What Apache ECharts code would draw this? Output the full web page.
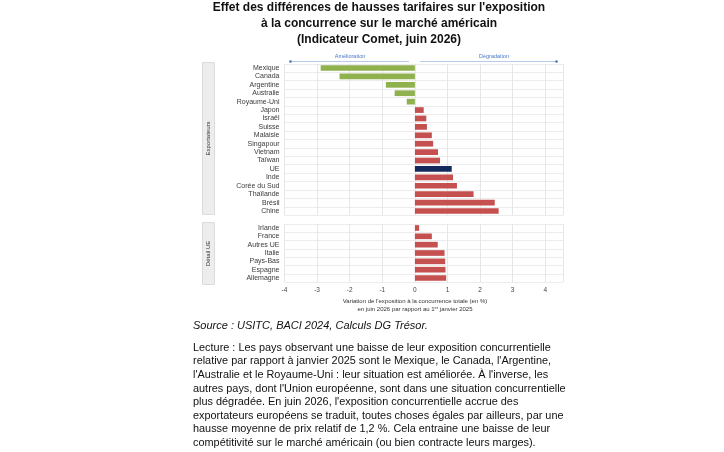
<!DOCTYPE html>
<html><head><meta charset="utf-8">
<script src="https://cdn.jsdelivr.net/npm/echarts@6/dist/echarts.min.js"></script>
<style>html,body{margin:0;padding:0;background:#fff}#c{width:724px;height:452px}</style>
</head><body><div id="c"></div>
<script>
const exportCats = ['Mexique','Canada','Argentine','Australie','Royaume-Uni','Japon','Israël','Suisse','Malaisie','Singapour','Vietnam','Taïwan','UE','Inde','Corée du Sud','Thaïlande','Brésil','Chine'];
const exportVals = [-2.89,-2.31,-0.89,-0.62,-0.25,0.27,0.35,0.37,0.52,0.56,0.71,0.77,1.13,1.17,1.29,1.80,2.45,2.57];
const ueCats = ['Irlande','France','Autres UE','Italie','Pays-Bas','Espagne','Allemagne'];
const ueVals = [0.13,0.52,0.70,0.91,0.93,0.94,0.96];
const xTicks = [-4,-3,-2,-1,0,1,2,3,4];

const FONT = "'Liberation Sans', Arial, sans-serif";
const GREEN = '#8fb14e', RED = '#c4504f', NAVY = '#14295e';
function colorFor(cat, v){ if (v < 0) return GREEN; if (cat === 'UE') return NAVY; return RED; }

const chart = echarts.init(document.getElementById('c'), null, {renderer:'canvas'});
const X0 = 284.5, XR = 563.2;
function xAxisCfg(gi, showLabels){
  return {
    gridIndex: gi, type:'value', min: xTicks[0], max: 4.55, interval: 1,
    axisLine:{show:false}, axisTick:{show:false},
    axisLabel:{show: showLabels, fontSize:6.5, color:'#444', fontFamily:FONT, margin:5,
      formatter: v => xTicks.indexOf(v) >= 0 ? String(v) : ''},
    splitLine:{show:true, lineStyle:{color:'#e6e6e6', width:1}}
  };
}
function yAxisCfg(gi, cats){
  return {
    gridIndex: gi, type:'category', data: cats, inverse:true,
    axisLine:{show:false}, axisTick:{show:false},
    axisLabel:{interval:0, fontSize:7, color:'#3a3a3a', fontFamily:FONT, margin:5},
    splitLine:{show:true, interval:0, lineStyle:{color:'#ececec', width:1}}
  };
}
const option = {
  animation:false,
  backgroundColor:'#ffffff',
  grid:[
    {left:X0, right:724-XR, top:63.8, height:151.4},
    {left:X0, right:724-XR, top:223.8, height:58.4}
  ],
  xAxis:[xAxisCfg(0,false), xAxisCfg(1,true)],
  yAxis:[yAxisCfg(0,exportCats), yAxisCfg(1,ueCats)],
  series:[
    {type:'bar', xAxisIndex:0, yAxisIndex:0, barWidth:'68%',
     data: exportVals.map((v,i)=>({value:v, itemStyle:{color:colorFor(exportCats[i],v)}}))},
    {type:'bar', xAxisIndex:1, yAxisIndex:1, barWidth:'68%',
     data: ueVals.map((v,i)=>({value:v, itemStyle:{color:colorFor(ueCats[i],v)}}))}
  ],
  graphic:[
    {type:'text', x:379, y:0, style:{text:"Effet des différences de hausses tarifaires sur l'exposition\nà la concurrence sur le marché américain\n(Indicateur Comet, juin 2026)",
      font:"bold 12px "+FONT, fill:'#111', align:'center', lineHeight:16}, },
    // annotation arrows
    {type:'line', shape:{x1:290.5,y1:61.5,x2:409,y2:61.5}, style:{stroke:'#b8cbe8', lineWidth:1}},
    {type:'line', shape:{x1:420,y1:61.5,x2:556.5,y2:61.5}, style:{stroke:'#b8cbe8', lineWidth:1}},
    {type:'circle', shape:{cx:290.5, cy:61.5, r:1.3}, style:{fill:'#4472c4'}},
    {type:'circle', shape:{cx:556.5, cy:61.5, r:1.3}, style:{fill:'#4472c4'}},
    {type:'text', x:350, y:56, style:{text:'Amélioration', font:'5.5px '+FONT, fill:'#4a78c8', align:'center', verticalAlign:'middle'}},
    {type:'text', x:494, y:56, style:{text:'Dégradation', font:'5.5px '+FONT, fill:'#4a78c8', align:'center', verticalAlign:'middle'}},
    // strips
    {type:'rect', shape:{x:202.5, y:62.5, width:12, height:152}, style:{fill:'#ededed', stroke:'#dcdcdc', lineWidth:1}},
    {type:'rect', shape:{x:202.5, y:222.5, width:12, height:62}, style:{fill:'#ededed', stroke:'#dcdcdc', lineWidth:1}},
    {type:'text', x:208.5, y:138.5, rotation:Math.PI/2, style:{text:'Exportateurs', font:'6px '+FONT, fill:'#333', align:'center', verticalAlign:'middle'}},
    {type:'text', x:208.5, y:253.5, rotation:Math.PI/2, style:{text:'Détail UE', font:'6px '+FONT, fill:'#333', align:'center', verticalAlign:'middle'}},
    // axis title
    {type:'text', x:415, y:301, style:{text:"Variation de l'exposition à la concurrence totale (en %)", font:'6px '+FONT, fill:'#333', align:'center', verticalAlign:'middle'}},
    {type:'text', x:415, y:309.5, style:{text:'en juin 2026 par rapport au 1{s|er} janvier 2025', font:'6px '+FONT, fill:'#333', align:'center', verticalAlign:'middle',
      rich:{s:{fontSize:4, verticalAlign:'top', padding:[0,0,3,0], fill:'#333', fontFamily:FONT}}}},
    // source and reading note
    {type:'text', x:193, y:326, style:{text:'Source : USITC, BACI 2024, Calculs DG Trésor.', font:'italic 11px '+FONT, fill:'#111', verticalAlign:'middle'}},
    {type:'text', x:193, y:341, style:{text:
      "Lecture : Les pays observant une baisse de leur exposition concurrentielle\n"+
      "relative par rapport à janvier 2025 sont le Mexique, le Canada, l'Argentine,\n"+
      "l'Australie et le Royaume-Uni : leur situation est améliorée. À l'inverse, les\n"+
      "autres pays, dont l'Union européenne, sont dans une situation concurrentielle\n"+
      "plus dégradée. En juin 2026, l'exposition concurrentielle accrue des\n"+
      "exportateurs européens se traduit, toutes choses égales par ailleurs, par une\n"+
      "hausse moyenne de prix relatif de 1,2 %. Cela entraine une baisse de leur\n"+
      "compétitivité sur le marché américain (ou bien contracte leurs marges).",
      font:'10.9px '+FONT, fill:'#111', lineHeight:13.6}}
  ]
};
chart.setOption(option);
</script></body></html>
